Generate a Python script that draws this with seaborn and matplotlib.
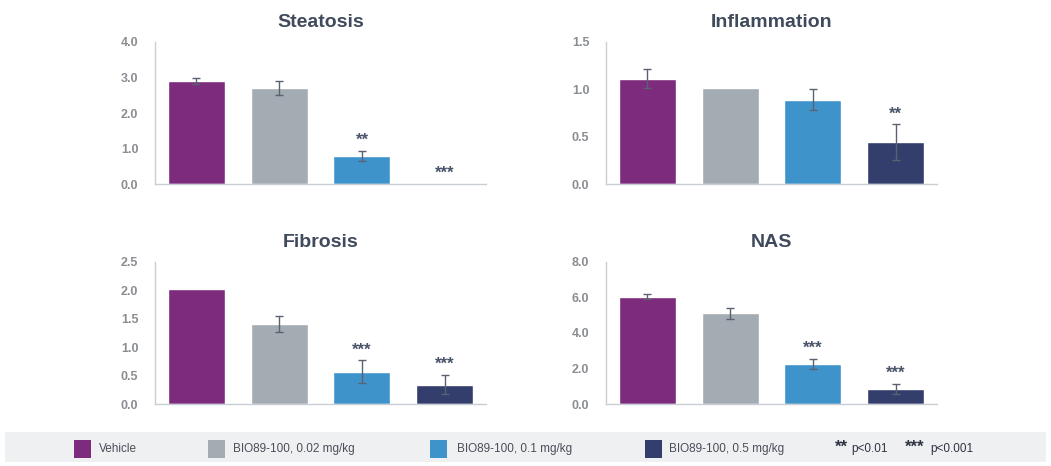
import matplotlib
matplotlib.use("Agg")
import matplotlib.pyplot as plt
import matplotlib.patches as mpatches
import pandas as pd
import seaborn as sns

# Groups and colours
groups = ["Vehicle", "BIO89-100, 0.02 mg/kg", "BIO89-100, 0.1 mg/kg", "BIO89-100, 0.5 mg/kg"]
colors = ["#7D2B7D", "#A3ABB3", "#3F93CB", "#343E6C"]

# Values (mean, error)
steatosis = [2.9, 2.7, 0.8, 0.0]
steatosis_err = [0.08, 0.2, 0.14, 0.0]
steatosis_sig = ["", "", "**", "***"]

inflammation = [1.11, 1.01, 0.89, 0.44]
inflammation_err = [0.1, 0.0, 0.11, 0.19]
inflammation_sig = ["", "", "", "**"]

fibrosis = [2.02, 1.41, 0.57, 0.34]
fibrosis_err = [0.0, 0.14, 0.2, 0.17]
fibrosis_sig = ["", "", "***", "***"]

nas = [6.05, 5.1, 2.25, 0.85]
nas_err = [0.15, 0.33, 0.3, 0.3]
nas_sig = ["", "", "***", "***"]

panels = [
    ("Steatosis", steatosis, steatosis_err, steatosis_sig, [0, 1, 2, 3, 4]),
    ("Inflammation", inflammation, inflammation_err, inflammation_sig, [0, 0.5, 1.0, 1.5]),
    ("Fibrosis", fibrosis, fibrosis_err, fibrosis_sig, [0, 0.5, 1.0, 1.5, 2.0, 2.5]),
    ("NAS", nas, nas_err, nas_sig, [0, 2, 4, 6, 8]),
]

# axes rectangles in figure fractions [left, bottom, width, height]
rects = [
    [0.1475, 0.605, 0.315, 0.305],
    [0.5766, 0.605, 0.315, 0.305],
    [0.1475, 0.133, 0.315, 0.305],
    [0.5766, 0.133, 0.315, 0.305],
]

title_color = "#3F4A5C"
tick_color = "#8A8D92"
spine_color = "#C9CED4"
star_color = "#4A5468"

sns.set_style("white")
plt.rcParams["font.family"] = ["Liberation Sans", "DejaVu Sans"]

fig = plt.figure(figsize=(10.51, 4.66), dpi=100)

for (title, vals, errs, sig, ticks), rect in zip(panels, rects):
    ax = fig.add_axes(rect)
    df = pd.DataFrame({"group": groups, "value": vals})
    sns.barplot(data=df, x="group", y="value", hue="group", palette=colors,
                saturation=1, width=0.69, legend=False, ax=ax, errorbar=None)
    # error bars, skipping empty ones
    for x, (v, e) in enumerate(zip(vals, errs)):
        if v > 0 and e > 0:
            ax.errorbar(x, v, yerr=e, fmt="none", ecolor="#5A6170",
                        elinewidth=1.0, capsize=3, capthick=1.0)
    ymax = ticks[-1]
    for x, (v, e, s) in enumerate(zip(vals, errs, sig)):
        if s:
            ax.text(x, v + e + ymax * 0.02, s, ha="center", va="bottom",
                    fontsize=12, fontweight="bold", color=star_color)
    ax.set_ylim(0, ymax)
    ax.set_xlim(-0.5, 3.5)
    ax.set_yticks(ticks)
    ax.set_yticklabels([f"{t:.1f}" for t in ticks], color=tick_color,
                       fontsize=9, fontweight="bold")
    ax.set_xticks([])
    ax.set_xlabel("")
    ax.set_ylabel("")
    ax.tick_params(axis="y", length=0, pad=12)
    for side in ["top", "right"]:
        ax.spines[side].set_visible(False)
    for side in ["left", "bottom"]:
        ax.spines[side].set_color(spine_color)
        ax.spines[side].set_linewidth(1.0)
    ax.set_title(title, fontsize=14, fontweight="bold", color=title_color, pad=11)

# legend band
band = mpatches.Rectangle((0.005, 0.009), 0.99, 0.064, transform=fig.transFigure,
                          facecolor="#EEF0F2", edgecolor="none", zorder=0)
fig.patches.append(band)

sq_x = [0.0705, 0.198, 0.409, 0.614]
txt_x = [0.094, 0.222, 0.435, 0.637]
for g, c, sx, tx in zip(groups, colors, sq_x, txt_x):
    sq = mpatches.Rectangle((sx, 0.018), 0.016, 0.038, transform=fig.transFigure,
                            facecolor=c, edgecolor="none")
    fig.patches.append(sq)
    fig.text(tx, 0.037, g, ha="left", va="center", fontsize=8.5, color="#4A4F58")

fig.text(0.794, 0.040, "**", ha="left", va="center", fontsize=12, fontweight="bold", color="#2E3440")
fig.text(0.810, 0.037, "p<0.01", ha="left", va="center", fontsize=8.5, color="#2E3440")
fig.text(0.861, 0.040, "***", ha="left", va="center", fontsize=12, fontweight="bold", color="#2E3440")
fig.text(0.885, 0.037, "p<0.001", ha="left", va="center", fontsize=8.5, color="#2E3440")

fig.savefig("out.png", dpi=100)
